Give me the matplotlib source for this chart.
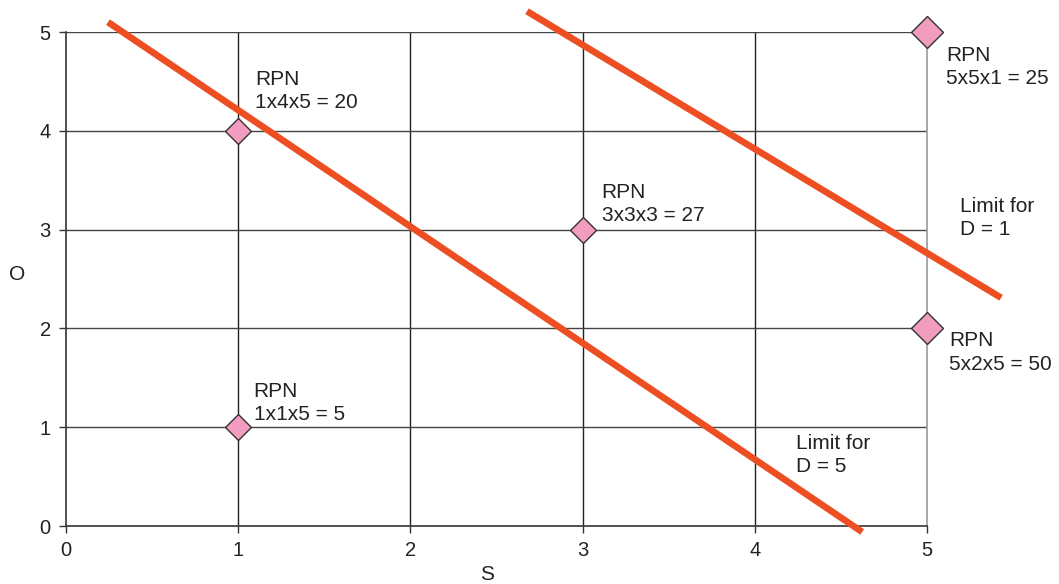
import matplotlib
matplotlib.use("Agg")
import matplotlib.pyplot as plt

plt.rcParams['font.family'] = ['Liberation Sans', 'DejaVu Sans']

# Severity (S) / Occurrence (O) example points
s_vals = [1, 1, 3, 5, 5]
o_vals = [4, 1, 3, 5, 2]
rpn_labels = ["RPN\n1x4x5 = 20", "RPN\n1x1x5 = 5", "RPN\n3x3x3 = 27",
              "RPN\n5x5x1 = 25", "RPN\n5x2x5 = 50"]
label_pos = [(1.10, 4.62), (1.09, 1.46), (3.11, 3.47), (5.11, 4.86), (5.13, 1.97)]

# Limit lines (S, O endpoints)
limit_d5_s = [0.244, 4.623]
limit_d5_o = [5.10, -0.06]
limit_d1_s = [2.677, 5.43]
limit_d1_o = [5.21, 2.31]
limit_texts = ["Limit for\nD = 5", "Limit for\nD = 1"]
limit_text_pos = [(4.24, 0.93), (5.19, 3.33)]

ticks = [0, 1, 2, 3, 4, 5]

fig = plt.figure(figsize=(10.59, 5.84), dpi=100)
ax = fig.add_axes([0.0623, 0.0993, 0.8131, 0.8459])
ax.set_xlim(0, 5)
ax.set_ylim(0, 5)
ax.set_xticks(ticks)
ax.set_yticks(ticks)
ax.tick_params(labelsize=14.5, length=5, width=1, color='#333333', labelcolor='#222222')
ax.tick_params(axis='x', pad=6)
ax.tick_params(axis='y', pad=6)

for sp in ['top', 'right']:
    ax.spines[sp].set_visible(False)
for sp in ['left', 'bottom']:
    ax.spines[sp].set_color('#333333')
    ax.spines[sp].set_linewidth(1.2)

# grid
for t in ticks[1:5]:
    ax.axvline(t, color='#222222', lw=1.0, zorder=1)
for t in ticks[1:]:
    ax.axhline(t, color='#444444', lw=1.0, zorder=1)
ax.axvline(5, color='#999999', lw=1.2, zorder=1, clip_on=False)

ax.plot(limit_d5_s, limit_d5_o, color='#EE4F22', lw=4.8, clip_on=False, zorder=3,
        solid_capstyle='butt')
ax.plot(limit_d1_s, limit_d1_o, color='#EE4F22', lw=4.8, clip_on=False, zorder=3,
        solid_capstyle='butt')

# points on the right edge are drawn with a larger diamond
for s, o in zip(s_vals, o_vals):
    ms = 16.5 if s == 5 else 13
    ax.plot([s], [o], linestyle='none', marker='D', markersize=ms,
            markerfacecolor='#F29CBF', markeredgecolor='#333333', markeredgewidth=1.0,
            clip_on=False, zorder=4)

for txt, (x, y) in zip(rpn_labels, label_pos):
    ax.text(x, y, txt, fontsize=15, ha='left', va='top', color='#222222',
            linespacing=1.28, clip_on=False)
for txt, (x, y) in zip(limit_texts, limit_text_pos):
    ax.text(x, y, txt, fontsize=15, ha='left', va='top', color='#222222',
            linespacing=1.28, clip_on=False)

fig.text(487 / 1059, 1 - 574 / 584, "S", fontsize=15, ha='center', va='center',
         color='#222222')
fig.text(17 / 1059, 1 - 275 / 584, "O", fontsize=15, ha='center', va='center',
         color='#222222')

fig.savefig("out.png", dpi=100)
